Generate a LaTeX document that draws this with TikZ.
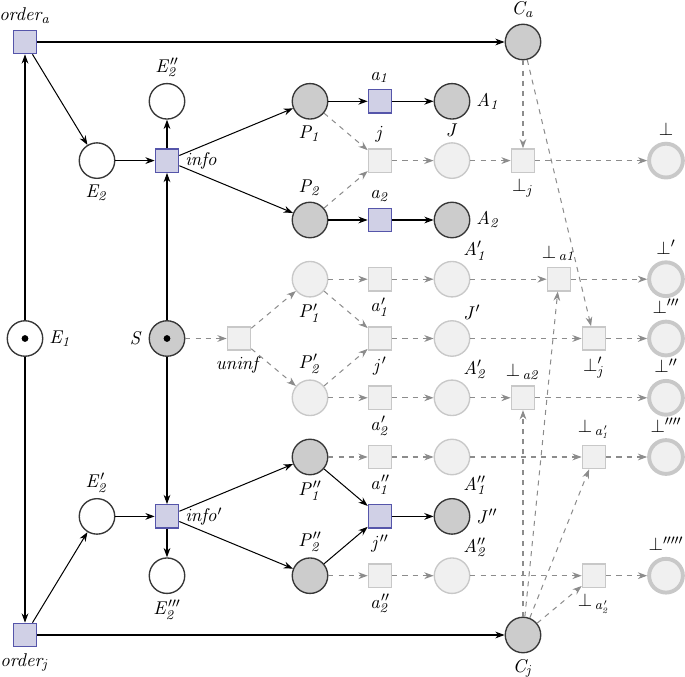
\documentclass[tikz,border=0pt]{standalone}
\usetikzlibrary{arrows.meta}
\definecolor{tfill}{RGB}{208,208,230}
\definecolor{tdraw}{RGB}{85,85,170}
\definecolor{pfill}{RGB}{204,204,204}
\definecolor{pdraw}{RGB}{55,55,55}
\definecolor{ifill}{RGB}{240,240,240}
\definecolor{idraw}{RGB}{200,200,200}
\definecolor{ilabel}{RGB}{195,195,195}
\definecolor{dcol}{RGB}{140,140,140}
\tikzset{
  every label/.style={font=\fontsize{11}{13}\selectfont},
  place/.style={circle, draw=pdraw, fill=white, line width=0.8pt, minimum size=21pt, inner sep=0pt},
  aplace/.style={place, fill=pfill},
  trans/.style={rectangle, draw=tdraw, fill=tfill, line width=0.8pt, minimum size=13.8pt, inner sep=0pt},
  iplace/.style={circle, draw=idraw, fill=ifill, line width=0.8pt, minimum size=21pt, inner sep=0pt,
    every label/.append style={text=ilabel}},
  itrans/.style={rectangle, draw=idraw, fill=ifill, line width=0.8pt, minimum size=13.8pt, inner sep=0pt,
    every label/.append style={text=ilabel}},
  fplace/.style={circle, draw=idraw, fill=ifill, line width=2.3pt, minimum size=20pt, inner sep=0pt,
    every label/.append style={text=ilabel}},
  arr/.style={-{Stealth[length=5.5pt,width=4pt]}, line width=0.6pt, draw=black},
  darr/.style={-{Stealth[length=5.5pt,width=4pt]}, line width=0.6pt, draw=dcol, dashed},
  token/.style={fill=black}
}
\begin{document}
\begin{tikzpicture}[x=0.0208cm, y=-0.0208cm]
\useasboundingbox (0,0) rectangle (685,677);
% left part
\node[trans, label=above:$\mathit{order_a}$] (oa) at (25,42) {};
\node[place, label=right:$\mathit{E_1}$] (E1) at (25,338.5) {};
\node[trans, label=below:$\mathit{order_j}$] (oj) at (25,635) {};
\node[place, label=below:$\mathit{E_2}$] (E2) at (97,160.6) {};
\node[place, label=above:$\mathit{E'_2}$] (E2p) at (97,516.4) {};
\node[trans, label=right:$\mathit{info}$] (info) at (167,160.6) {};
\node[place, label=above:$\mathit{E''_2}$] (E2pp) at (167,101.3) {};
\node[aplace, label=left:$\mathit{S}$] (S) at (167,338.5) {};
\node[trans, label=right:$\mathit{info'}$] (infop) at (167,516.4) {};
\node[place, label=below:$\mathit{E'''_2}$] (E2ppp) at (167,575.7) {};
\node[itrans, label=below:$\mathit{uninf}$] (uninf) at (239,338.5) {};
\fill[token] (E1) circle (2pt);
\fill[token] (S) circle (2pt);
% column P
\node[aplace, label=below:$\mathit{P_1}$] (P1) at (310,101.3) {};
\node[aplace, label=above:$\mathit{P_2}$] (P2) at (310,220) {};
\node[iplace, label=below:$\mathit{P'_1}$] (P1p) at (310,279.2) {};
\node[iplace, label=above:$\mathit{P'_2}$] (P2p) at (310,397.8) {};
\node[aplace, label=below:$\mathit{P''_1}$] (P1pp) at (310,457) {};
\node[aplace, label=above:$\mathit{P''_2}$] (P2pp) at (310,575.7) {};
% column transitions
\node[trans, label=above:$\mathit{a_1}$] (a1) at (380,101.3) {};
\node[itrans, label=above:$\mathit{j}$] (j) at (380,160.6) {};
\node[trans, label=above:$\mathit{a_2}$] (a2) at (380,220) {};
\node[itrans, label=below:$\mathit{a'_1}$] (a1p) at (380,279.2) {};
\node[itrans, label=below:$\mathit{j'}$] (jp) at (380,338.5) {};
\node[itrans, label=below:$\mathit{a'_2}$] (a2p) at (380,397.8) {};
\node[itrans, label=below:$\mathit{a''_1}$] (a1pp) at (380,457) {};
\node[trans, label=below:$\mathit{j''}$] (jpp) at (380,516.4) {};
\node[itrans, label=below:$\mathit{a''_2}$] (a2pp) at (380,575.7) {};
% column A
\node[aplace, label=right:$\mathit{A_1}$] (A1) at (452,101.3) {};
\node[iplace, label=above:$\mathit{J}$] (J) at (452,160.6) {};
\node[aplace, label=right:$\mathit{A_2}$] (A2) at (452,220) {};
\node[iplace, label={[xshift=-4.5pt]above right:$\mathit{A'_1}$}] (A1p) at (452,279.2) {};
\node[iplace, label={[xshift=-4.5pt]above right:$\mathit{J'}$}] (Jp) at (452,338.5) {};
\node[iplace, label={[xshift=-4.5pt]above right:$\mathit{A'_2}$}] (A2p) at (452,397.8) {};
\node[iplace, label={[xshift=-4.5pt]below right:$\mathit{A''_1}$}] (A1pp) at (452,457) {};
\node[aplace, label=right:$\mathit{J''}$] (Jpp) at (452,516.4) {};
\node[iplace, label={[xshift=-4.5pt]above right:$\mathit{A''_2}$}] (A2pp) at (452,575.7) {};
% C and bottom transitions
\node[aplace, label=above:$\mathit{C_a}$] (Ca) at (523,42) {};
\node[aplace, label=below:$\mathit{C_j}$] (Cj) at (523,635) {};
\node[itrans, label=below:$\bot_{\mathit{j}}$] (botj) at (523,160.6) {};
\node[itrans, label=above:$\bot_{\,\mathit{a2}}$] (bota2) at (523,397.8) {};
\node[itrans, label=above:$\bot_{\,\mathit{a1}}$] (bota1) at (559,279.2) {};
\node[itrans, label=below:$\bot'_{\mathit{j}}$] (botjp) at (594,338.5) {};
\node[itrans, label=above:$\bot_{\,\mathit{a'_1}}$] (bota1p) at (594,457) {};
\node[itrans, label=below:$\bot_{\,\mathit{a'_2}}$] (bota2p) at (594,575.7) {};
% final places
\node[fplace, label=above:$\bot$] (F0) at (666,160.6) {};
\node[fplace, label=above:$\bot'$] (F1) at (666,279.2) {};
\node[fplace, label=above:$\bot'''$] (F3) at (666,338.5) {};
\node[fplace, label=above:$\bot''$] (F2) at (666,397.8) {};
\node[fplace, label=above:$\bot''''$] (F4) at (666,457) {};
\node[fplace, label=above:$\bot'''''$] (F5) at (666,575.7) {};
% solid arcs
\draw[arr] (oa) -- (Ca);
\draw[arr] (oa) -- (E2);
\draw[arr] (E1) -- (oa);
\draw[arr] (E1) -- (oj);
\draw[arr] (oj) -- (E2p);
\draw[arr] (oj) -- (Cj);
\draw[arr] (E2) -- (info);
\draw[arr] (info) -- (E2pp);
\draw[arr] (S) -- (info);
\draw[arr] (S) -- (infop);
\draw[arr] (info) -- (P1);
\draw[arr] (info) -- (P2);
\draw[arr] (E2p) -- (infop);
\draw[arr] (infop) -- (E2ppp);
\draw[arr] (infop) -- (P1pp);
\draw[arr] (infop) -- (P2pp);
\draw[arr] (P1) -- (a1);
\draw[arr] (a1) -- (A1);
\draw[arr] (P2) -- (a2);
\draw[arr] (a2) -- (A2);
\draw[arr] (P1pp) -- (jpp);
\draw[arr] (P2pp) -- (jpp);
\draw[arr] (jpp) -- (Jpp);
% dashed arcs
\draw[darr] (P1) -- (j);
\draw[darr] (P2) -- (j);
\draw[darr] (j) -- (J);
\draw[darr] (J) -- (botj);
\draw[darr] (Ca) -- (botj);
\draw[darr] (botj) -- (F0);
\draw[darr] (Ca) -- (botjp);
\draw[darr] (S) -- (uninf);
\draw[darr] (uninf) -- (P1p);
\draw[darr] (uninf) -- (P2p);
\draw[darr] (P1p) -- (a1p);
\draw[darr] (P1p) -- (jp);
\draw[darr] (P2p) -- (jp);
\draw[darr] (P2p) -- (a2p);
\draw[darr] (a1p) -- (A1p);
\draw[darr] (jp) -- (Jp);
\draw[darr] (a2p) -- (A2p);
\draw[darr] (A1p) -- (bota1);
\draw[darr] (Jp) -- (botjp);
\draw[darr] (A2p) -- (bota2);
\draw[darr] (bota1) -- (F1);
\draw[darr] (botjp) -- (F3);
\draw[darr] (bota2) -- (F2);
\draw[darr] (Cj) -- (bota1);
\draw[darr] (Cj) -- (bota2);
\draw[darr] (Cj) -- (bota1p);
\draw[darr] (Cj) -- (bota2p);
\draw[darr] (P1pp) -- (a1pp);
\draw[darr] (a1pp) -- (A1pp);
\draw[darr] (A1pp) -- (bota1p);
\draw[darr] (bota1p) -- (F4);
\draw[darr] (P2pp) -- (a2pp);
\draw[darr] (a2pp) -- (A2pp);
\draw[darr] (A2pp) -- (bota2p);
\draw[darr] (bota2p) -- (F5);
\end{tikzpicture}
\end{document}
